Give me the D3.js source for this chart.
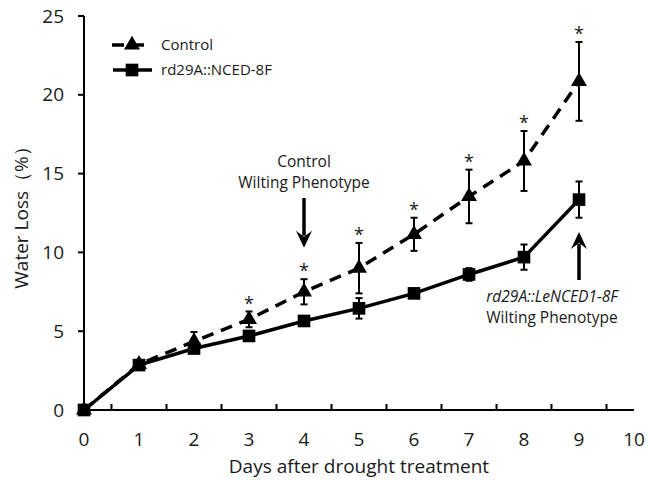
<!DOCTYPE html>
<html>
<head>
<meta charset="utf-8">
<script src="https://cdn.jsdelivr.net/npm/d3@7"></script>
<style>
  body { margin: 0; background: #fff; }
  text { font-family: "Open Sans", "Noto Sans", sans-serif; fill: #1a1a1a; }
</style>
</head>
<body>
<div id="chart"></div>
<script>
var days = [0, 1, 2, 3, 4, 5, 6, 7, 8, 9];
var controlLoss = [0, 2.9, 4.35, 5.75, 7.5, 9.0, 11.15, 13.55, 15.8, 20.85];
var controlErr = [0, 0.1, 0.6, 0.5, 0.8, 1.6, 1.05, 1.7, 1.9, 2.5];
var ncedLoss = [0, 2.85, 3.9, 4.7, 5.65, 6.45, 7.4, 8.6, 9.7, 13.35];
var ncedErr = [0, 0.1, 0.15, 0.15, 0.15, 0.65, 0.1, 0.4, 0.8, 1.15];
var starDays = [3, 4, 5, 6, 7, 8, 9];
var xTicks = [0, 1, 2, 3, 4, 5, 6, 7, 8, 9, 10];
var yTicks = [0, 5, 10, 15, 20, 25];

var width = 648, height = 480;
var svg = d3.select("#chart").append("svg").attr("width", width).attr("height", height);

var x = d3.scaleLinear().domain([0, 10]).range([84, 634]);
var y = d3.scaleLinear().domain([0, 25]).range([410, 16]);

// axes
var xAxis = svg.append("g").attr("transform", "translate(0," + y(0) + ")");
xAxis.append("line").attr("x1", x(0)).attr("x2", x(10)).attr("stroke", "#000").attr("stroke-width", 2);
xAxis.selectAll(".tk").data(d3.range(0.5, 10, 1)).enter().append("line")
    .attr("x1", function(d) { return x(d); }).attr("x2", function(d) { return x(d); })
    .attr("y1", 0).attr("y2", -6).attr("stroke", "#000").attr("stroke-width", 2);
xAxis.selectAll(".lb").data(xTicks).enter().append("text")
    .attr("x", function(d) { return x(d); }).attr("y", 36)
    .attr("text-anchor", "middle").attr("font-size", "19px")
    .text(function(d) { return d; });

var yAxis = svg.append("g").attr("transform", "translate(" + x(0) + ",0)");
yAxis.append("line").attr("y1", y(0)).attr("y2", y(25)).attr("stroke", "#000").attr("stroke-width", 2);
yAxis.selectAll(".tk").data(yTicks).enter().append("line")
    .attr("y1", function(d) { return y(d); }).attr("y2", function(d) { return y(d); })
    .attr("x1", 0).attr("x2", -6).attr("stroke", "#000").attr("stroke-width", 2);
yAxis.selectAll(".lb").data(yTicks).enter().append("text")
    .attr("x", -20).attr("y", function(d) { return y(d); }).attr("dy", "0.35em")
    .attr("text-anchor", "end").attr("font-size", "19px")
    .text(function(d) { return d; });

svg.append("text").attr("x", 359).attr("y", 473).attr("text-anchor", "middle")
    .attr("font-size", "19px").text("Days after drought treatment");
svg.append("text").attr("transform", "translate(28,213) rotate(-90)").attr("text-anchor", "middle")
    .attr("font-size", "19px").text("Water Loss\uFF08%\uFF09");

var tri = d3.symbol().type(d3.symbolTriangle).size(110);
var sq = d3.symbol().type(d3.symbolSquare).size(160);

function drawSeries(vals, errs, dash, sym) {
    var pts = days.map(function(d, i) { return { d: d, v: vals[i], e: errs[i] }; });
    var line = d3.line().x(function(p) { return x(p.d); }).y(function(p) { return y(p.v); });
    svg.append("path").datum(pts).attr("d", line).attr("fill", "none")
        .attr("stroke", "#000").attr("stroke-width", 3.5).attr("stroke-dasharray", dash);
    var eb = svg.append("g").selectAll("g").data(pts.filter(function(p) { return p.d > 0; })).enter().append("g");
    eb.append("line").attr("x1", function(p) { return x(p.d); }).attr("x2", function(p) { return x(p.d); })
        .attr("y1", function(p) { return y(p.v - p.e); }).attr("y2", function(p) { return y(p.v + p.e); })
        .attr("stroke", "#000").attr("stroke-width", 2);
    [-1, 1].forEach(function(s) {
        eb.append("line").attr("x1", function(p) { return x(p.d) - 3.5; }).attr("x2", function(p) { return x(p.d) + 3.5; })
            .attr("y1", function(p) { return y(p.v + s * p.e); }).attr("y2", function(p) { return y(p.v + s * p.e); })
            .attr("stroke", "#000").attr("stroke-width", 2);
    });
    svg.append("g").selectAll("path").data(pts).enter().append("path")
        .attr("d", sym).attr("fill", "#000")
        .attr("transform", function(p) { return "translate(" + x(p.d) + "," + y(p.v) + ")"; });
}

drawSeries(ncedLoss, ncedErr, null, sq);
drawSeries(controlLoss, controlErr, "12,8", tri);

// significance stars
svg.append("g").selectAll("text").data(starDays).enter().append("text")
    .attr("x", function(d) { return x(d); })
    .attr("y", function(d) { return y(controlLoss[d] + controlErr[d]) - 2; })
    .attr("text-anchor", "middle").attr("font-size", "18px").text("*");

// legend
var leg = svg.append("g");
leg.append("line").attr("x1", 112).attr("x2", 152).attr("y1", 45).attr("y2", 45)
    .attr("stroke", "#000").attr("stroke-width", 3.5).attr("stroke-dasharray", "12,8");
leg.append("path").attr("d", tri).attr("transform", "translate(132,45)");
leg.append("text").attr("x", 161).attr("y", 45).attr("dy", "0.35em").attr("font-size", "15px").text("Control");
leg.append("line").attr("x1", 113).attr("x2", 152).attr("y1", 70).attr("y2", 70)
    .attr("stroke", "#000").attr("stroke-width", 3.5);
leg.append("path").attr("d", sq).attr("transform", "translate(132,70)");
leg.append("text").attr("x", 161).attr("y", 70).attr("dy", "0.35em").attr("font-size", "15px").text("rd29A::NCED-8F");

// wilting arrows
function arrow(day, from, to) {
    var x0 = x(day), y0 = y(from), y1 = y(to);
    var dir = y1 > y0 ? 1 : -1;
    svg.append("line").attr("x1", x0).attr("x2", x0).attr("y1", y0).attr("y2", y1 - dir * 12)
        .attr("stroke", "#000").attr("stroke-width", 3.5);
    svg.append("path").attr("fill", "#000")
        .attr("d", "M" + (x0 - 8) + "," + (y1 - dir * 17) + "L" + x0 + "," + y1 + "L" + (x0 + 8) + "," + (y1 - dir * 17) + "L" + x0 + "," + (y1 - dir * 11) + "Z");
}
arrow(4, 13.45, 10.3);
arrow(9, 8.25, 11.3);

svg.append("text").attr("x", x(4)).attr("y", 167).attr("text-anchor", "middle").attr("font-size", "15.5px").text("Control");
svg.append("text").attr("x", x(4)).attr("y", 188).attr("text-anchor", "middle").attr("font-size", "15.5px").text("Wilting Phenotype");
svg.append("text").attr("x", 552).attr("y", 302).attr("text-anchor", "middle").attr("font-size", "15.5px")
    .attr("font-style", "italic").text("rd29A::LeNCED1-8F");
svg.append("text").attr("x", 552).attr("y", 323).attr("text-anchor", "middle").attr("font-size", "15.5px").text("Wilting Phenotype");
</script>
</body>
</html>
